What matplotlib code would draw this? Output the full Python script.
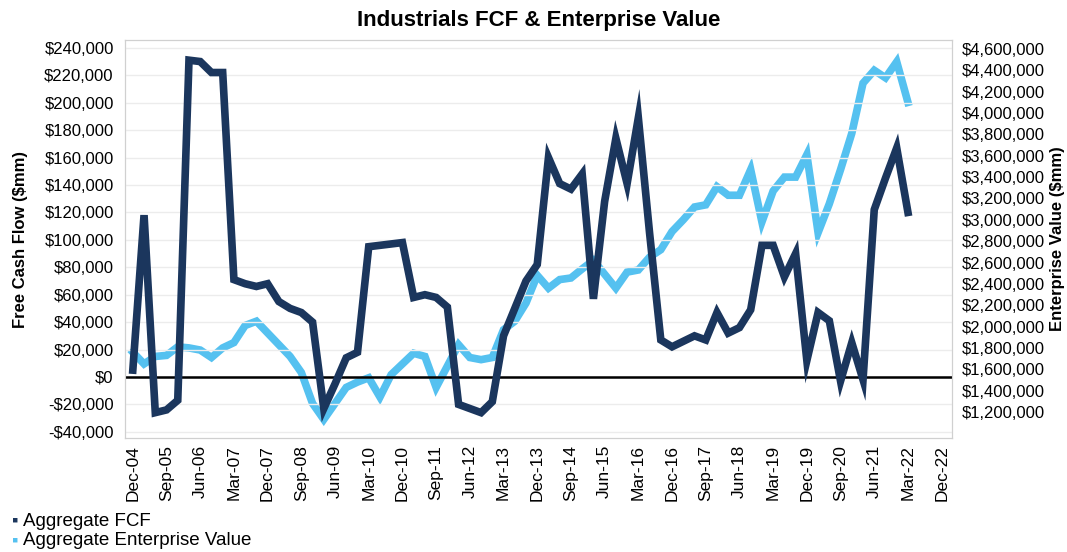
import numpy as np
import matplotlib.pyplot as plt
from matplotlib.ticker import FuncFormatter

plt.rcParams['font.family'] = ['Liberation Sans', 'DejaVu Sans']

# quarterly data, Dec-04 .. Mar-22
fcf = [5000, 118000, -26000, -24000, -17000, 231000, 230000, 222000, 222000, 71000,
       68000, 66000, 68000, 55000, 50000, 47000, 40000, -23000, -5000, 14000,
       18000, 95000, 96000, 97000, 98000, 58000, 60000, 58000, 51000, -20000,
       -23000, -26000, -18000, 30000, 50000, 70000, 82000, 160000, 141000, 137000,
       148000, 57000, 128000, 174000, 141000, 189000, 105000, 27000, 22000, 26000,
       30000, 27000, 47000, 32000, 36000, 49000, 96000, 96000, 73000, 90000,
       12000, 47000, 41000, -3000, 25000, -2000, 122000, 145000, 167000, 120000]

ev = [1760000, 1650000, 1720000, 1730000, 1810000, 1800000, 1780000, 1710000, 1800000, 1850000,
      2010000, 2050000, 1940000, 1830000, 1720000, 1570000, 1280000, 1130000, 1280000, 1430000,
      1480000, 1520000, 1340000, 1550000, 1650000, 1750000, 1720000, 1430000, 1630000, 1830000,
      1710000, 1690000, 1710000, 1970000, 2050000, 2220000, 2480000, 2360000, 2440000, 2455000,
      2540000, 2620000, 2490000, 2360000, 2510000, 2530000, 2650000, 2720000, 2890000, 3000000,
      3120000, 3140000, 3310000, 3230000, 3230000, 3470000, 2980000, 3270000, 3400000, 3400000,
      3610000, 2880000, 3150000, 3470000, 3810000, 4280000, 4400000, 4330000, 4480000, 4100000]

tick_labels = ['Dec-04', 'Sep-05', 'Jun-06', 'Mar-07', 'Dec-07', 'Sep-08', 'Jun-09', 'Mar-10',
               'Dec-10', 'Sep-11', 'Jun-12', 'Mar-13', 'Dec-13', 'Sep-14', 'Jun-15', 'Mar-16',
               'Dec-16', 'Sep-17', 'Jun-18', 'Mar-19', 'Dec-19', 'Sep-20', 'Jun-21', 'Mar-22',
               'Dec-22']

dark = '#1b365d'
light = '#55c1f0'

x = np.arange(len(fcf))

fig = plt.figure(figsize=(10.67, 5.52), dpi=100)
ax = fig.add_axes([0.117, 0.2065, 0.775, 0.721])
ax2 = ax.twinx()

ax.plot(x, fcf, color=dark, lw=5.5, solid_joinstyle='miter', zorder=3)
ax2.plot(x, ev, color=light, lw=5.5, solid_joinstyle='miter', zorder=2)
ax.set_zorder(ax2.get_zorder() + 1)
ax.patch.set_visible(False)

ax.set_ylim(-44500, 245700)
ax.set_yticks(np.arange(-40000, 240001, 20000))
ax2.set_ylim(956000, 4684000)
ax2.set_yticks(np.arange(1200000, 4600001, 200000))

money = FuncFormatter(lambda v, p: ('-$' if v < 0 else '$') + f'{abs(v):,.0f}')
ax.yaxis.set_major_formatter(money)
ax2.yaxis.set_major_formatter(money)

ax.set_xlim(-0.71, 72.9)
ax.set_xticks(np.arange(0, 3 * len(tick_labels), 3))
ax.set_xticklabels(tick_labels, rotation=90)

ax.grid(axis='y', color='#ececec', lw=1)
ax.set_axisbelow(True)
ax.axhline(0, color='black', lw=1.8, zorder=2)

ax.tick_params(axis='y', length=0, labelsize=12, pad=8)
ax.tick_params(axis='x', length=0, labelsize=12.5, pad=5)
ax2.tick_params(axis='y', length=0, labelsize=12, pad=7)
for a in (ax, ax2):
    for s in a.spines.values():
        s.set_color('#d0d0d0')

ax.set_ylabel('Free Cash Flow ($mm)', fontsize=12, fontweight='bold', labelpad=12)
ax2.set_ylabel('Enterprise Value ($mm)', fontsize=12, fontweight='bold', labelpad=4)
ax.set_title('Industrials FCF & Enterprise Value', fontsize=16, fontweight='bold', pad=10)

fig.text(0.011, 0.056, '\u25aa', color=dark, fontsize=13, va='center')
fig.text(0.022, 0.056, 'Aggregate FCF', fontsize=13.5, va='center')
fig.text(0.011, 0.02, '\u25aa', color=light, fontsize=13, va='center')
fig.text(0.022, 0.02, 'Aggregate Enterprise Value', fontsize=13.5, va='center')

fig.savefig('out.png', dpi=100)
